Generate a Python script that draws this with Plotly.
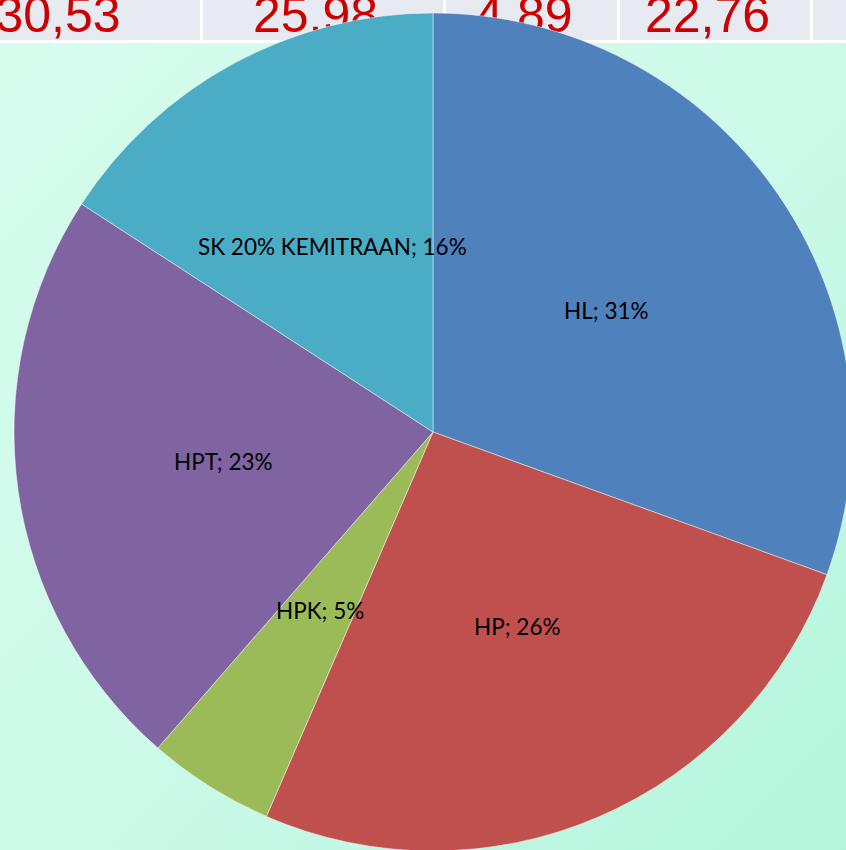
import plotly.graph_objects as go
import base64
import math

# ---- data ----
categories = ["HL", "HP", "HPK", "HPT", "SK 20% KEMITRAAN"]
values = [30.53, 25.98, 4.89, 22.76, 15.84]
header_values = [30.53, 25.98, 4.89, 22.76]
slice_colors = ["#4f81bd", "#c0504d", "#9bbb59", "#8064a2", "#4bacc6"]

# figure is slightly larger than the 846x850 window; the page crops it
W, H = 870, 870
PCX, PCY, PR = 433, 432, 419       # pie centre / radius in pixels (from top-left)

cell_edges = [-72, 200, 443, 617, 810]
header_h = 40

fig = go.Figure()

# header numbers (cartesian text trace, drawn beneath the pie layer)
cx = [(cell_edges[i] + cell_edges[i + 1]) / 2 - 6 for i in range(len(header_values))]
fig.add_trace(go.Scatter(
    x=cx, y=[H - 19] * len(header_values),
    text=[f"{v:.2f}".replace(".", ",") for v in header_values],
    mode="text", textposition="middle center",
    textfont=dict(family="Liberation Sans, Arial", size=50, color="#cc0000"),
    hoverinfo="skip", showlegend=False,
))

dom_x = [(PCX - PR) / W, (PCX + PR) / W]
dom_y = [(H - PCY - PR) / H, (H - PCY + PR) / H]

fig.add_trace(go.Pie(
    labels=categories, values=values, sort=False, direction="clockwise", rotation=0,
    marker=dict(colors=slice_colors, line=dict(color="rgba(255,255,255,0.45)", width=1)),
    textinfo="none",
    domain=dict(x=dom_x, y=dom_y),
    showlegend=False, hoverinfo="label+percent",
))

# data labels at half radius on each slice's mid-angle
total = sum(values)
annotations = []
cum = 0.0
for lab, v in zip(categories, values):
    mid = (cum + v / 2) / total * 2 * math.pi
    cum += v
    r = 0.505 * PR
    px = PCX + r * math.sin(mid)
    py = PCY - r * math.cos(mid)
    annotations.append(dict(
        x=px, y=H - py, xref="x", yref="y", showarrow=False,
        text=f"{lab}; {round(v / total * 100)}%",
        font=dict(family="Lato", size=22.5, color="#000000"),
        xanchor="center", yanchor="middle",
    ))

svg = f'''<svg xmlns="http://www.w3.org/2000/svg" width="{W}" height="{H}">
<defs><linearGradient id="g" x1="0" y1="0" x2="1" y2="1">
<stop offset="0" stop-color="#d6fcee"/><stop offset="0.5" stop-color="#cdfae9"/><stop offset="1" stop-color="#b2f5db"/>
</linearGradient></defs><rect width="{W}" height="{H}" fill="url(#g)"/></svg>'''
uri = "data:image/svg+xml;base64," + base64.b64encode(svg.encode()).decode()

shapes = [
    dict(type="rect", xref="x", yref="y", x0=0, x1=W, y0=H - header_h, y1=H,
         fillcolor="#e8eaf2", line=dict(width=0), layer="below"),
    dict(type="rect", xref="x", yref="y", x0=0, x1=W, y0=H - header_h - 3, y1=H - header_h,
         fillcolor="#ffffff", line=dict(width=0), layer="below"),
]
for e in cell_edges[1:]:
    shapes.append(dict(type="rect", xref="x", yref="y", x0=e, x1=e + 3, y0=H - header_h, y1=H,
                       fillcolor="#ffffff", line=dict(width=0), layer="below"))

fig.update_layout(
    width=W, height=H, margin=dict(l=0, r=0, t=0, b=0),
    paper_bgcolor="#cffaea", plot_bgcolor="rgba(0,0,0,0)",
    xaxis=dict(range=[0, W], visible=False, fixedrange=True),
    yaxis=dict(range=[0, H], visible=False, fixedrange=True),
    shapes=shapes, annotations=annotations,
    images=[dict(source=uri, xref="paper", yref="paper", x=0, y=1, sizex=1, sizey=1,
                 sizing="stretch", layer="below", xanchor="left", yanchor="top")],
)

fig.write_html(
    "out.html",
    config={"displayModeBar": False},
    post_script="document.body.style.margin='0';document.body.style.overflow='hidden';"
                "document.documentElement.style.overflow='hidden';",
)
